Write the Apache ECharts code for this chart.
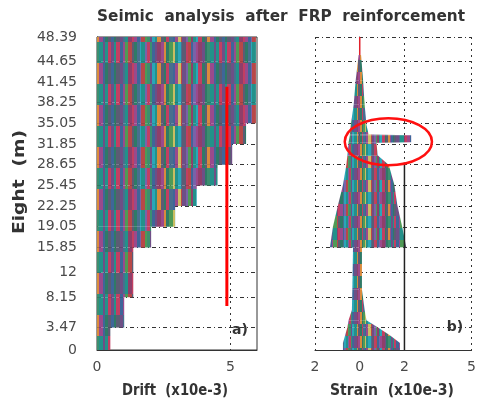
<!DOCTYPE html>
<html><head><meta charset="utf-8">
<script src="https://cdn.jsdelivr.net/npm/echarts@6/dist/echarts.min.js"></script>
<style>html,body{margin:0;padding:0;background:#fff}#c{width:479px;height:405px}</style>
</head><body><div id="c"></div>
<script>
// ---------- data ----------
const heightTicks = [0, 3.47, 8.15, 12, 15.85, 19.05, 22.25, 25.45, 28.65, 31.85, 35.05, 38.25, 41.45, 44.65, 48.39];
const heightLabels = ['0','3.47','8.15','12','15.85','19.05','22.25','25.45','28.65','31.85','35.05','38.25','41.45','44.65','48.39'];
// max drift envelope of each storey (between consecutive heightTicks)
const storeyDrift = [0.5, 1.02, 1.36, 1.36, 2.03, 2.93, 3.74, 4.52, 5.07, 5.59, 5.96, 5.96, 5.96, 5.96];
const driftTicks = [0, 5];
const driftLimitX = [4.87, 4.87];
const driftLimitY = [6.8, 40.7];
// strain envelope (height, min strain, max strain)
const strainH   = [45.6, 41.7, 37.9, 34.8, 33.3, 33.2, 32.1, 32.0, 30.1, 28.6, 25.5, 22.4, 19.0, 15.9, 15.8, 9.3, 6.2, 4.6, 3.5, 2.3, 1.1, 0];
const strainMin = [-0.05,-0.18,-0.27,-0.4,-0.44,-0.44,-0.5,-0.5,-0.55,-0.6,-0.75,-0.97,-1.2,-1.33,-0.3,-0.33,-0.35,-0.5,-0.55,-0.65,-0.75,-0.75];
const strainMax = [0.06,0.15,0.22,0.3,0.4,2.3,2.3,0.75,0.8,1.3,1.55,1.68,1.9,2.08,0.1,0.1,0.22,0.3,0.8,1.33,1.8,1.8];
const strainTicks = [-2, 0, 2, 5];
const strainTickLabels = ['2', '0', '2', '5'];
const strainTopX = [0, 0];
const strainTopY = [45.6, 48.39];
const strainLimitX = [2, 2];
const strainLimitY = [0, 29];
// annotation ellipse (data units of the strain panel)
const annotCenter = [1.28, 32.2];
const annotRadius = [1.95, 3.63];

// ---------- style helpers (stripe texture only) ----------
const palette = ['#6e4f86','#c23f62','#23918a','#3f6699','#4f9a56','#5c5c74','#9a4a8c','#2aa6b8',
                 '#b84848','#2f7a66','#7a62a8','#d98a3c','#486f8f','#8f3f6a','#3c8f6f','#c9bd62'];
const colorOrderA = [0,2,1,3,6,4,8,5,9,12,7,2,10,1,14,3,0,13,6,11,9,4,15,2,7,12,5,1,8,3,10,6,13,0,9,14,2];
const colorOrderB = [3,9,5,0,12,2,13,1,6,3,10,8,4,14,0,7,2,11,5,9,1,12,3,6,15,8,0,10,4,13,2,7,1,9,5,11,6];
const stripeWidths = [3,2,4,3,2,3,4,2,3,3,1,4,2,3,2];
function makeTile(w, h, offset, widths) {
  const cv = document.createElement('canvas'); cv.width = w; cv.height = h;
  const ctx = cv.getContext('2d');
  const half = Math.round(h / 2);
  let x = 0, i = 0;
  while (x < w) {
    const cw = Math.min(widths[i % widths.length], w - x);
    ctx.fillStyle = palette[colorOrderA[(i + offset) % colorOrderA.length]];
    ctx.fillRect(x, 0, cw, half);
    ctx.fillStyle = palette[colorOrderB[(i + offset) % colorOrderB.length]];
    ctx.fillRect(x, half, cw, h - half);
    x += cw; i++;
  }
  return cv;
}
const driftTile = makeTile(111, 42, 0, stripeWidths);
const strainTile = makeTile(67, 24, 5, [2,1,2,3,1,2,2,1]);

const labelFont = 'DejaVu Sans';
const axisColor = '#333';
const gridDash = [4, 3, 1, 3];
const vDash = [2, 4];

function zip(xs, ys) { return xs.map((x, i) => [x, ys[i]]); }
const driftBands = storeyDrift.map((d, i) => [heightTicks[i], heightTicks[i + 1], d]);
const strainRows = strainH.map((h, i) => [h, strainMin[i], strainMax[i]]);

const chart = echarts.init(document.getElementById('c'), null, {renderer: 'canvas'});

function yAxisCfg(gridIndex, showLabel) {
  return {
    type: 'value', gridIndex, min: 0, max: 48.39,
    axisLine: {show: true, lineStyle: {color: axisColor, width: 1}},
    axisTick: {show: false, customValues: heightTicks},
    axisLabel: {show: showLabel, customValues: heightTicks, margin: 20,
      fontFamily: labelFont, fontSize: 14, color: '#4a4a4a',
      formatter: v => heightLabels[heightTicks.indexOf(v)] ?? String(v)},
    splitLine: {show: true, lineStyle: {color: axisColor, width: 1, type: gridDash}}
  };
}

chart.setOption({
  animation: false,
  backgroundColor: '#fff',
  grid: [
    {left: 97, top: 37, width: 160, height: 313, show: true, borderColor: axisColor, borderWidth: 1, backgroundColor: 'transparent'},
    {left: 315, top: 37, width: 158, height: 313}
  ],
  xAxis: [
    {type: 'value', gridIndex: 0, min: 0, max: 6,
      axisLine: {show: true, lineStyle: {color: axisColor}},
      axisTick: {show: false, customValues: driftTicks},
      axisLabel: {customValues: driftTicks, margin: 10, fontFamily: labelFont, fontSize: 14, color: '#4a4a4a'},
      splitLine: {show: true, lineStyle: {color: axisColor, type: vDash}}},
    {type: 'value', gridIndex: 1, min: -2, max: 5,
      axisLine: {show: true, lineStyle: {color: axisColor}},
      axisTick: {show: false, customValues: strainTicks},
      axisLabel: {customValues: strainTicks, margin: 10, fontFamily: labelFont, fontSize: 14, color: '#4a4a4a',
        formatter: v => strainTickLabels[strainTicks.indexOf(v)] ?? String(v)},
      splitLine: {show: true, lineStyle: {color: axisColor, type: vDash}}}
  ],
  yAxis: [yAxisCfg(0, true), yAxisCfg(1, false)],
  series: [
    {type: 'custom', xAxisIndex: 0, yAxisIndex: 0, data: driftBands, encode: {x: 2, y: [0, 1]},
      renderItem(params, api) {
        const y0 = api.value(0), y1 = api.value(1), d = api.value(2);
        const p0 = api.coord([0, y1]), p1 = api.coord([d, y0]);
        return {type: 'rect', shape: {x: p0[0], y: p0[1], width: p1[0] - p0[0], height: p1[1] - p0[1]},
          style: {fill: {image: driftTile, repeat: 'repeat'}}};
      }},
    {type: 'line', xAxisIndex: 0, yAxisIndex: 0, data: zip(driftLimitX, driftLimitY),
      symbol: 'none', lineStyle: {color: '#ff0000', width: 3}, z: 5},
    {type: 'custom', xAxisIndex: 1, yAxisIndex: 1, data: strainRows, encode: {x: [1, 2], y: 0},
      renderItem(params, api) {
        const i = params.dataIndex;
        if (i >= strainH.length - 1) return null;
        const pts = [
          api.coord([strainMin[i], strainH[i]]),
          api.coord([strainMax[i], strainH[i]]),
          api.coord([strainMax[i + 1], strainH[i + 1]]),
          api.coord([strainMin[i + 1], strainH[i + 1]])
        ];
        return {type: 'polygon', shape: {points: pts},
          style: {fill: {image: strainTile, repeat: 'repeat'}, stroke: null}};
      }},
    {type: 'line', xAxisIndex: 1, yAxisIndex: 1, data: zip(strainTopX, strainTopY),
      symbol: 'none', lineStyle: {color: '#e0202a', width: 1.5}, z: 5},
    {type: 'line', xAxisIndex: 1, yAxisIndex: 1, data: zip(strainLimitX, strainLimitY),
      symbol: 'none', lineStyle: {color: '#222', width: 1.5}, z: 5}
  ]
});

// ---------- texts & annotation ----------
const mctx = document.createElement('canvas').getContext('2d');
function stretched(text, font, size, weight, targetW) {
  mctx.font = `${weight} ${size}px "${font}"`;
  return targetW / mctx.measureText(text).width;
}
function textEl(text, x, y, size, weight, targetW, rotation) {
  const sx = targetW ? stretched(text, labelFont, size, weight, targetW) : 1;
  return {type: 'text', x, y, rotation: rotation || 0, scaleX: sx, z: 100,
    style: {text, fontFamily: labelFont, fontSize: size, fontWeight: weight, fill: '#333',
      align: 'center', verticalAlign: 'middle'}};
}
const c0 = chart.convertToPixel({gridIndex: 1}, annotCenter);
const c1 = chart.convertToPixel({gridIndex: 1}, [annotCenter[0] + annotRadius[0], annotCenter[1] + annotRadius[1]]);
chart.setOption({
  graphic: [
    textEl('Seimic  analysis  after  FRP  reinforcement', 281, 17, 15, 'bold', 368),
    textEl('Eight  (m)', 20, 182, 15, 'bold', 104, Math.PI / 2),
    textEl('Drift  (x10e-3)', 175, 391, 15, 'bold', 106),
    textEl('Strain  (x10e-3)', 392, 391, 15, 'bold', 124),
    textEl('a)', 240, 330, 14, 'bold'),
    textEl('b)', 455, 327, 14, 'bold'),
    {type: 'ellipse', z: 100, shape: {cx: c0[0], cy: c0[1], rx: c1[0] - c0[0], ry: c0[1] - c1[1]},
      style: {fill: 'none', stroke: '#ff1010', lineWidth: 2.5}}
  ]
});
</script></body></html>
